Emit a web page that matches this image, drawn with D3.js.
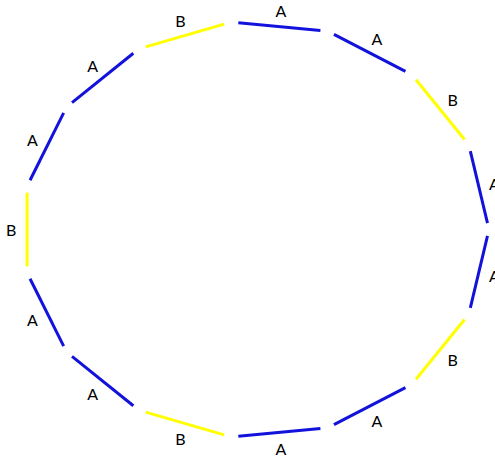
<!DOCTYPE html>
<html>
<head>
<meta charset="utf-8">
<script src="https://cdn.jsdelivr.net/npm/d3@7"></script>
<style>
  body { margin: 0; background: white; }
</style>
</head>
<body>
<svg id="ring"></svg>
<script>
// one label per edge, going round from the right-hand vertex (0 deg) anticlockwise
const edgeLabels = ["A", "B", "A", "A", "B", "A", "A", "B", "A", "A", "B", "A", "A", "B", "A"];
const categories = ["A", "B"];
const categoryColors = ["#1212dc", "#ffff00"];

const width = 495;
const height = 456;

const svg = d3.select("#ring")
    .attr("width", width)
    .attr("height", height);

const n = edgeLabels.length;

//scales
const angle = d3.scaleLinear().domain([0, n]).range([0, 2 * Math.PI]);
const x = d3.scaleLinear().domain([-1, 1]).range([22, 489]);
const y = d3.scaleLinear().domain([-1, 1]).range([438, 21]);
const color = d3.scaleOrdinal().domain(categories).range(categoryColors);

const cx = x(0), cy = y(0);
const vertex = i => [x(Math.cos(angle(i))), y(Math.sin(angle(i)))];

const gap = 0.075;
const edges = edgeLabels.map((label, i) => {
    const [x0, y0] = vertex(i);
    const [x1, y1] = vertex(i + 1);
    const dx = x1 - x0, dy = y1 - y0;
    const len = Math.hypot(dx, dy);
    let nx = dy / len, ny = -dx / len;
    const mx = (x0 + x1) / 2, my = (y0 + y1) / 2;
    //make sure normal points outwards
    if (nx * (mx - cx) + ny * (my - cy) < 0) { nx = -nx; ny = -ny; }
    return {
        label: label,
        x1: x0 + dx * gap, y1: y0 + dy * gap,
        x2: x1 - dx * gap, y2: y1 - dy * gap,
        lx: mx + nx * 16, ly: my + ny * 16
    };
});

svg.selectAll("line.edge")
    .data(edges)
    .enter()
    .append("line")
    .attr("class", "edge")
    .attr("x1", d => d.x1)
    .attr("y1", d => d.y1)
    .attr("x2", d => d.x2)
    .attr("y2", d => d.y2)
    .style("stroke", d => color(d.label))
    .style("stroke-width", 3);

svg.selectAll("text.edge-label")
    .data(edges)
    .enter()
    .append("text")
    .attr("class", "edge-label")
    .attr("x", d => d.lx)
    .attr("y", d => d.ly)
    .attr("text-anchor", "middle")
    .attr("dominant-baseline", "central")
    .style("font-family", "Lato, 'DejaVu Sans', sans-serif")
    .style("font-size", "16px")
    .style("fill", "#000")
    .text(d => d.label);
</script>
</body>
</html>
